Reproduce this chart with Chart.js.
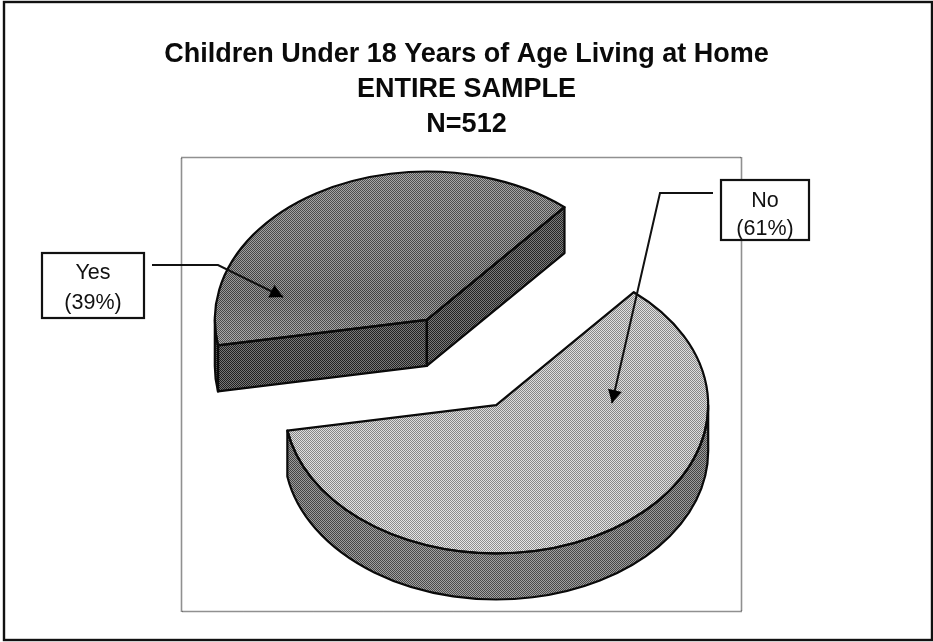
<!DOCTYPE html>
<html>
<head>
<meta charset="utf-8">
<title>Children Under 18 Years of Age Living at Home</title>
<script src="https://cdn.jsdelivr.net/npm/chart.js@4"></script>
<style>
  html, body { margin: 0; padding: 0; background: #fff; }
  #box { position: relative; width: 933px; height: 642px; }
</style>
</head>
<body>
<div id="box"><canvas id="pieChart"></canvas></div>
<script>
const titleLines = ['Children Under 18 Years of Age Living at Home', 'ENTIRE SAMPLE', 'N=512'];
const categories = ['No', 'Yes'];
const percents = [61, 39];

// look of the 3D pie
const squash = 0.7;
const depth = 46;
const explode = 70;
const radius = 212;
const shiftX = -5;   // pie centre relative to the chart area centre
const shiftY = -22;
const inkColor = '#0a0a0a';

const topStops = [
  [[0, '#d4d4d4'], [0.5, '#cbcbcb'], [0.75, '#cfcfcf'], [1, '#dadada']],
  [[0, '#7a7a7a'], [0.25, '#6e6e6e'], [0.42, '#626262'], [0.6, '#858585']]
];
const wallStops = [
  [[0, '#666666'], [0.4, '#747474'], [1, '#666666']],
  [[0, '#303030'], [1, '#383838']]
];

// callouts: box, then leader line ending in an arrow head
const callouts = [
  { index: 0, box: [721, 180, 88, 60], textY: [201, 229], line: [[713, 193], [660, 193], [612, 403]] },
  { index: 1, box: [42, 253, 102, 65], textY: [273, 303], line: [[152, 265], [218, 265], [283, 297]] }
];

// 2x2 stipple, the halftone of the printed page
function stipple(ctx) {
  const c = document.createElement('canvas');
  c.width = c.height = 2;
  const g = c.getContext('2d');
  g.fillStyle = 'rgba(0,0,0,0.34)';
  g.fillRect(0, 0, 1, 1);
  g.fillRect(1, 1, 1, 1);
  g.fillStyle = 'rgba(255,255,255,0.34)';
  g.fillRect(1, 0, 1, 1);
  g.fillRect(0, 1, 1, 1);
  return ctx.createPattern(c, 'repeat');
}

function topFill(context) {
  const chart = context.chart;
  const stops = topStops[context.dataIndex];
  if (!chart.chartArea || !stops) return '#999';
  const cy = (chart.chartArea.top + chart.chartArea.bottom) / 2;
  const grad = chart.ctx.createLinearGradient(0, cy - radius, 0, cy + radius);
  stops.forEach(s => grad.addColorStop(s[0], s[1]));
  return grad;
}

function geometry(arc) {
  const p = arc.getProps(['x', 'y', 'startAngle', 'endAngle', 'outerRadius']);
  const mid = (p.startAngle + p.endAngle) / 2;
  const x = p.x + shiftX + Math.cos(mid) * explode;
  const y = p.y + shiftY + Math.sin(mid) * explode * squash;
  const r = p.outerRadius;
  const at = a => [x + r * Math.cos(a), y + r * squash * Math.sin(a)];
  return { p, x, y, r, start: p.startAngle, end: p.endAngle, at };
}

// parts of the rim that face the viewer
function frontRanges(s, e) {
  const out = [];
  for (let k = -1; k <= 1; k++) {
    const lo = Math.max(s, 2 * Math.PI * k);
    const hi = Math.min(e, 2 * Math.PI * k + Math.PI);
    if (hi > lo) out.push([lo, hi]);
  }
  return out;
}

function rimPath(ctx, g, lo, hi) {
  ctx.beginPath();
  ctx.ellipse(g.x, g.y, g.r, g.r * squash, 0, lo, hi);
  ctx.ellipse(g.x, g.y + depth, g.r, g.r * squash, 0, hi, lo, true);
  ctx.closePath();
}

function facePath(ctx, g, a) {
  const t = g.at(a);
  ctx.beginPath();
  ctx.moveTo(g.x, g.y);
  ctx.lineTo(t[0], t[1]);
  ctx.lineTo(t[0], t[1] + depth);
  ctx.lineTo(g.x, g.y + depth);
  ctx.closePath();
}

function topPath(ctx, g) {
  ctx.beginPath();
  ctx.moveTo(g.x, g.y);
  ctx.ellipse(g.x, g.y, g.r, g.r * squash, 0, g.start, g.end);
  ctx.closePath();
}

const pie3d = {
  id: 'pie3d',
  beforeDatasetsDraw(chart) {
    const ctx = chart.ctx;
    const arcs = chart.getDatasetMeta(0).data;
    const parts = arcs.map((arc, i) => ({ arc, i, g: geometry(arc) })).sort((a, b) => a.g.y - b.g.y);

    parts.forEach(({ arc, i, g }) => {
      const wall = ctx.createLinearGradient(g.x - g.r, 0, g.x + g.r, 0);
      wallStops[i].forEach(s => wall.addColorStop(s[0], s[1]));
      ctx.fillStyle = wall;
      [g.start, g.end].forEach(a => { facePath(ctx, g, a); ctx.fill(); });
      frontRanges(g.start, g.end).forEach(rg => { rimPath(ctx, g, rg[0], rg[1]); ctx.fill(); });

      // the slice itself comes from the library, squashed into an ellipse
      ctx.save();
      ctx.translate(g.x, g.y);
      ctx.scale(1, squash);
      ctx.translate(-g.p.x, -g.p.y);
      arc.draw(ctx);
      ctx.restore();
    });

    ctx.save();
    ctx.globalCompositeOperation = 'source-atop';
    ctx.fillStyle = stipple(ctx);
    ctx.fillRect(181, 157, 561, 455);
    ctx.restore();

    ctx.save();
    ctx.strokeStyle = inkColor;
    ctx.lineWidth = 2.2;
    ctx.lineJoin = 'round';
    parts.forEach(({ g }) => {
      // only the faces that are not hidden under the top
      if (g.end - g.start < Math.PI) {
        [g.start, g.end].forEach(a => { facePath(ctx, g, a); ctx.stroke(); });
      }
      frontRanges(g.start, g.end).forEach(rg => { rimPath(ctx, g, rg[0], rg[1]); ctx.stroke(); });
      topPath(ctx, g);
      ctx.stroke();
    });
    ctx.restore();

    // plot frame and outer frame
    ctx.save();
    ctx.strokeStyle = '#222';
    ctx.lineWidth = 1.6;
    ctx.setLineDash([1, 1]);
    ctx.strokeRect(181.5, 157.5, 560, 454);
    ctx.setLineDash([]);
    ctx.strokeStyle = '#111';
    ctx.lineWidth = 2.4;
    ctx.strokeRect(4, 2, 928, 638);
    ctx.restore();
    return false;
  },
  afterDraw(chart) {
    const ctx = chart.ctx;
    ctx.save();
    callouts.forEach(c => {
      ctx.strokeStyle = '#111';
      ctx.lineWidth = 2;
      ctx.beginPath();
      c.line.forEach((pt, i) => (i ? ctx.lineTo(pt[0], pt[1]) : ctx.moveTo(pt[0], pt[1])));
      ctx.stroke();

      const a = c.line[c.line.length - 2];
      const b = c.line[c.line.length - 1];
      const ang = Math.atan2(b[1] - a[1], b[0] - a[0]);
      ctx.fillStyle = '#000';
      ctx.save();
      ctx.translate(b[0], b[1]);
      ctx.rotate(ang);
      ctx.beginPath();
      ctx.moveTo(0, 0);
      ctx.lineTo(-13, -7);
      ctx.lineTo(-13, 7);
      ctx.closePath();
      ctx.fill();
      ctx.restore();

      ctx.fillStyle = '#fff';
      ctx.fillRect(c.box[0], c.box[1], c.box[2], c.box[3]);
      ctx.strokeStyle = '#111';
      ctx.lineWidth = 2.2;
      ctx.strokeRect(c.box[0], c.box[1], c.box[2], c.box[3]);

      ctx.fillStyle = '#111';
      ctx.font = '21.5px "Liberation Sans", Arial, sans-serif';
      ctx.textAlign = 'center';
      ctx.textBaseline = 'middle';
      const mx = c.box[0] + c.box[2] / 2;
      ctx.fillText(categories[c.index], mx, c.textY[0]);
      ctx.fillText('(' + percents[c.index] + '%)', mx, c.textY[1]);
    });
    ctx.restore();
  }
};

const pieCtx = document.getElementById('pieChart').getContext('2d');
new Chart(pieCtx, {
  type: 'pie',
  data: {
    labels: categories,
    datasets: [{
      data: percents,
      backgroundColor: topFill,
      borderWidth: 0
    }]
  },
  options: {
    responsive: true,
    maintainAspectRatio: false,
    animation: false,
    rotation: 40.5,
    radius: radius,
    // side padding stays small enough that the title is not shrunk to fit
    layout: { padding: { left: 100, right: 100, top: 0, bottom: 30 } },
    plugins: {
      legend: { display: false },
      tooltip: { enabled: false },
      title: {
        display: true,
        text: titleLines,
        color: '#0a0a0a',
        font: { family: '"Liberation Sans", Arial, sans-serif', size: 27, weight: 'bold', lineHeight: '35px' },
        padding: { top: 37, bottom: 15 }
      }
    }
  },
  plugins: [pie3d]
});
</script>
</body>
</html>
